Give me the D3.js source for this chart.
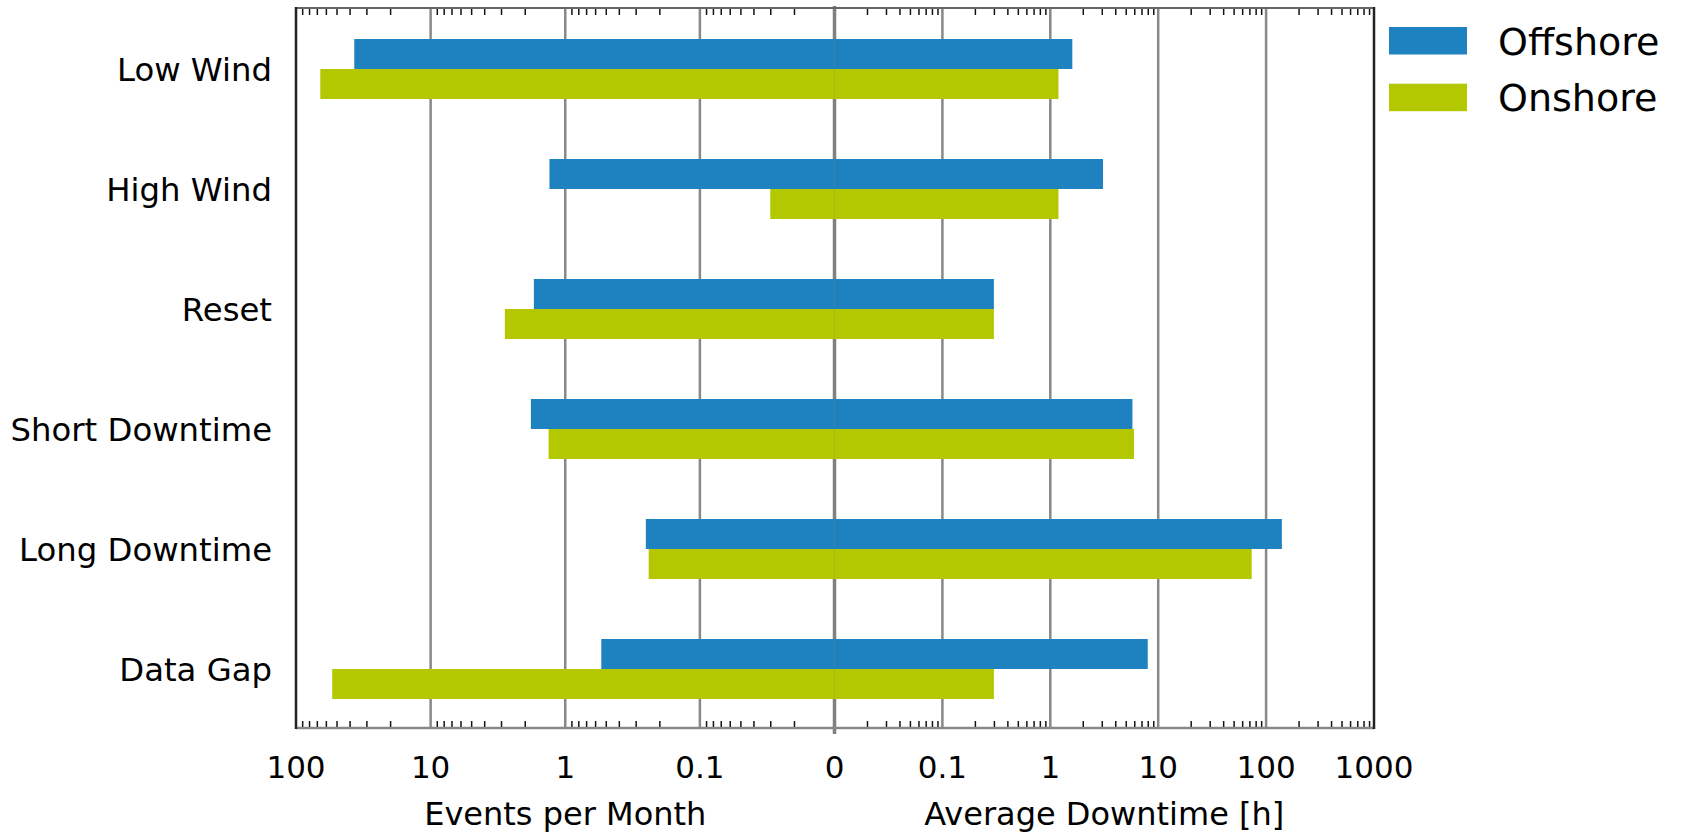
<!DOCTYPE html>
<html>
<head>
    <meta charset="utf-8">
    <script src="https://d3js.org/d3.v7.min.js"></script>
    <style>
        body { margin: 0; background: #fff; }
        text { font-family: "DejaVu Sans", Verdana, sans-serif; fill: #000; }
    </style>
</head>
<body>
<script>
    // values
    var categories = ["Low Wind", "High Wind", "Reset", "Short Downtime", "Long Downtime", "Data Gap"];
    var offshoreEvents   = [36.9, 1.31, 1.71, 1.80, 0.252, 0.540];
    var onshoreEvents    = [66, 0.030, 2.81, 1.33, 0.240, 53.8];
    var offshoreDowntime = [1.60, 3.08, 0.30, 5.77, 140, 8.0];
    var onshoreDowntime  = [1.19, 1.19, 0.30, 5.97, 73.5, 0.30];
    var seriesNames = ["Offshore", "Onshore"];
    var leftMajor  = [100, 10, 1, 0.1];
    var rightMajor = [0.1, 1, 10, 100, 1000];

    var width = 1683, height = 833,
        plotTop = 8, plotBottom = 728,
        plotLeft = 296, mid = 834.5, plotRight = 1374,
        colors = ["#1f82c0", "#b3c800"];

    var xL = d3.scaleLog().domain([100, 0.01]).range([plotLeft, mid]);
    var xR = d3.scaleLog().domain([0.01, 1000]).range([mid, plotRight]);
    var y = d3.scaleBand().domain(categories).range([plotTop + 1, plotBottom + 1]);
    var barH = y.bandwidth() / 4;

    // minor ticks 2..9 of every decade
    var minor = [];
    [0.01, 0.1, 1, 10, 100].forEach(function(d) {
        d3.range(2, 10).forEach(function(k) { minor.push(+(k * d).toPrecision(3)); });
    });
    var minorL = minor.filter(function(v) { return v < 100; });

    var svg = d3.select("body").append("svg")
        .attr("width", width)
        .attr("height", height);

    // gridlines
    var grid = svg.append("g").attr("stroke", "#888").attr("stroke-width", 2.5);
    grid.selectAll(".gl").data(leftMajor.slice(1)).enter().append("line")
        .attr("x1", function(d) { return xL(d); }).attr("x2", function(d) { return xL(d); })
        .attr("y1", plotTop).attr("y2", plotBottom);
    grid.selectAll(".gr").data(rightMajor.slice(0, 4)).enter().append("line")
        .attr("x1", function(d) { return xR(d); }).attr("x2", function(d) { return xR(d); })
        .attr("y1", plotTop).attr("y2", plotBottom);
    // zero line
    svg.append("line")
        .attr("x1", mid).attr("x2", mid).attr("y1", plotTop - 2).attr("y2", plotBottom + 6)
        .attr("stroke", "#808080").attr("stroke-width", 3.5);

    // minor ticks top and bottom
    function minorAxis(axisFn, scale, vals, ypos) {
        svg.append("g")
            .attr("transform", "translate(0," + ypos + ")")
            .call(axisFn(scale).tickValues(vals).tickSize(7).tickFormat(""))
            .call(function(g) {
                g.select(".domain").remove();
                g.selectAll(".tick line").attr("stroke", "#111").attr("stroke-width", 1.5);
            });
    }
    minorAxis(d3.axisBottom, xL, minorL, plotTop);
    minorAxis(d3.axisBottom, xR, minor, plotTop);
    minorAxis(d3.axisTop, xL, minorL, plotBottom);
    minorAxis(d3.axisTop, xR, minor, plotBottom);

    // bars
    var bars = svg.append("g");
    function drawBars(vals, scale, side, idx) {
        bars.append("g").attr("fill", colors[idx]).selectAll("rect")
            .data(vals).enter().append("rect")
            .attr("x", function(d) { return side == "L" ? scale(d) : mid; })
            .attr("width", function(d) { return side == "L" ? mid - scale(d) : scale(d) - mid; })
            .attr("y", function(d, i) { return y(categories[i]) + barH + idx * barH; })
            .attr("height", barH);
    }
    drawBars(offshoreEvents, xL, "L", 0);
    drawBars(onshoreEvents, xL, "L", 1);
    drawBars(offshoreDowntime, xR, "R", 0);
    drawBars(onshoreDowntime, xR, "R", 1);

    // frame
    svg.append("line").attr("x1", plotLeft).attr("x2", plotRight).attr("y1", plotTop).attr("y2", plotTop)
        .attr("stroke", "#666").attr("stroke-width", 2);
    svg.append("line").attr("x1", plotLeft).attr("x2", plotRight).attr("y1", plotBottom).attr("y2", plotBottom)
        .attr("stroke", "#888").attr("stroke-width", 2.5);
    svg.append("line").attr("x1", plotLeft).attr("x2", plotLeft).attr("y1", plotTop - 1).attr("y2", plotBottom + 1)
        .attr("stroke", "#222").attr("stroke-width", 2.5);
    svg.append("line").attr("x1", plotRight).attr("x2", plotRight).attr("y1", plotTop - 1).attr("y2", plotBottom + 1)
        .attr("stroke", "#222").attr("stroke-width", 2.5);

    // tick labels
    var labels = svg.append("g").attr("font-size", 31).attr("text-anchor", "middle");
    labels.selectAll(".tl").data(leftMajor).enter().append("text")
        .attr("x", function(d) { return xL(d); }).attr("y", 778)
        .text(function(d) { return d; });
    labels.append("text").attr("x", mid).attr("y", 778).text("0");
    labels.selectAll(".tr").data(rightMajor).enter().append("text")
        .attr("x", function(d) { return xR(d); }).attr("y", 778)
        .text(function(d) { return d; });

    // axis titles
    svg.append("text").attr("x", (plotLeft + mid) / 2).attr("y", 825)
        .attr("font-size", 32).attr("text-anchor", "middle").text("Events per Month");
    svg.append("text").attr("x", (mid + plotRight) / 2).attr("y", 825)
        .attr("font-size", 32).attr("text-anchor", "middle").text("Average Downtime [h]");

    // category labels
    svg.append("g").selectAll("text").data(categories).enter().append("text")
        .attr("x", 272)
        .attr("y", function(d) { return y(d) + y.bandwidth() / 2; })
        .attr("dy", "0.36em")
        .attr("font-size", 32.3)
        .attr("text-anchor", "end")
        .text(function(d) { return d; });

    // legend
    var legend = svg.append("g").selectAll("g").data(seriesNames).enter().append("g")
        .attr("transform", function(d, i) { return "translate(1389," + (27 + i * 56.7) + ")"; });
    legend.append("rect").attr("width", 78).attr("height", 27.5)
        .attr("fill", function(d, i) { return colors[i]; });
    legend.append("text").attr("x", 109).attr("y", 27.5)
        .attr("font-size", 38).text(function(d) { return d; });
</script>
</body>
</html>
